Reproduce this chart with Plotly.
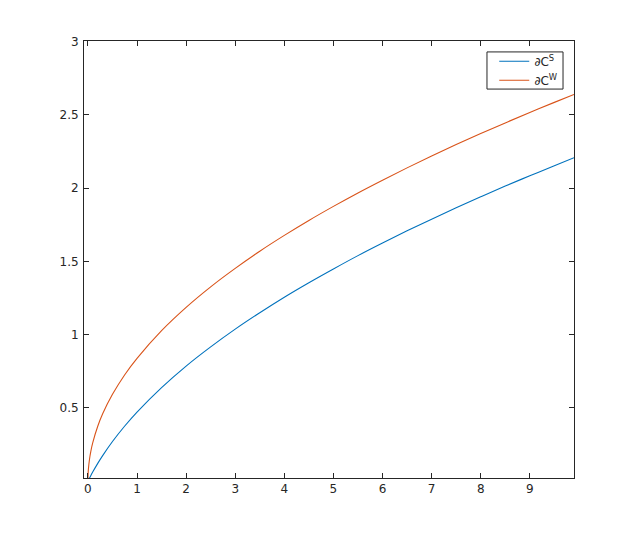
import plotly.graph_objects as go

# valores
x_s = [0, 0.05, 0.1, 0.2, 0.3, 0.5, 0.75, 1, 1.5, 2, 2.5, 3, 3.5, 4, 4.5,
       5, 5.5, 6, 6.5, 7, 7.5, 8, 8.5, 9, 9.5, 9.9]
c_s = [0, 0.033, 0.064, 0.122, 0.175, 0.271, 0.377, 0.472, 0.639, 0.786,
       0.917, 1.038, 1.150, 1.256, 1.355, 1.449, 1.540, 1.626, 1.709, 1.789,
       1.867, 1.942, 2.015, 2.085, 2.154, 2.208]

x_w = [0, 0.003, 0.01, 0.03, 0.06, 0.1, 0.2, 0.3, 0.5, 0.75, 1, 1.5, 2, 2.5,
       3, 3.5, 4, 4.5, 5, 5.5, 6, 6.5, 7, 7.5, 8, 8.5, 9, 9.5, 9.9]
c_w = [0, 0.046, 0.084, 0.145, 0.206, 0.265, 0.375, 0.460, 0.593, 0.727,
       0.839, 1.028, 1.187, 1.327, 1.453, 1.570, 1.678, 1.780, 1.876, 1.968,
       2.055, 2.139, 2.220, 2.298, 2.373, 2.446, 2.517, 2.586, 2.640]

x_ticks = [0, 1, 2, 3, 4, 5, 6, 7, 8, 9]
y_ticks = [0.5, 1, 1.5, 2, 2.5, 3]

fig = go.Figure()
fig.add_trace(go.Scatter(x=x_s, y=c_s, mode="lines", name="∂C<sup>S</sup>",
                         line=dict(color="#0072BD", width=1.1, shape="spline")))
fig.add_trace(go.Scatter(x=x_w, y=c_w, mode="lines", name="∂C<sup>W</sup>",
                         line=dict(color="#D95319", width=1.1, shape="spline")))

eixo = dict(showgrid=False, zeroline=False, showline=True, linecolor="#262626",
            linewidth=1, mirror="ticks", ticks="inside", ticklen=5,
            tickcolor="#262626", tickfont=dict(size=12, color="#262626"))

fig.update_xaxes(range=[-0.08, 9.9], tickvals=x_ticks, **eixo)
fig.update_yaxes(range=[0.022, 3.005], tickvals=y_ticks, ticklabelstandoff=2, **eixo)

# caixa da legenda desenhada à parte (mais compacta que a do plotly)
fig.add_shape(type="rect", xref="paper", yref="paper",
              x0=0.8224, x1=0.9776, y0=0.890, y1=0.975,
              line=dict(color="#262626", width=1), layer="above")

# a página tem 8px de margem no body
fig.update_layout(
    width=635, height=538,
    margin=dict(l=76, r=69, t=33, b=68),
    plot_bgcolor="white", paper_bgcolor="white",
    font=dict(family="DejaVu Sans, sans-serif", size=12, color="#262626"),
    legend=dict(x=0.976, y=0.987, xanchor="right", yanchor="top",
                borderwidth=0, bgcolor="rgba(0,0,0,0)",
                font=dict(size=12), tracegroupgap=0),
)

fig.write_html("out.html")
